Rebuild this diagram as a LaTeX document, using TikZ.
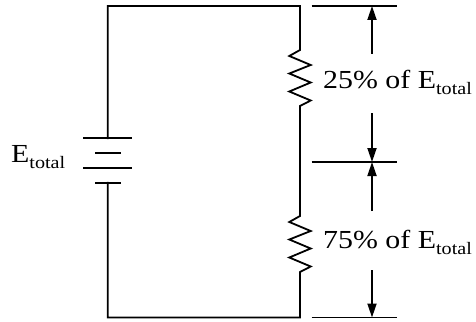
\documentclass[tikz,border=0pt]{standalone}
\usepackage{fontspec}
\setmainfont{Liberation Serif}
\newfontfamily\lblfont[FakeStretch=1.15]{Liberation Serif}
\usetikzlibrary{arrows.meta}
\newcommand{\Etot}{E\raisebox{-6pt}{\fontsize{17.5}{18}\selectfont total}}
\begin{document}
\begin{tikzpicture}[x=1pt,y=-1pt,
  wire/.style={line width=1.8pt,line join=miter,line cap=rect},
  plate/.style={line width=1.8pt},
  tick/.style={line width=1.8pt},
  dimarrow/.style={line width=1.8pt,-{Triangle[length=14pt,width=9pt]}},
  lbl/.style={anchor=base west,inner sep=0pt,font=\lblfont\fontsize{26}{28}\selectfont}]
\useasboundingbox (0,0) rectangle (476,321);
% coordinates
\coordinate (tl) at (107.7,6);
\coordinate (tr) at (300,6);
\coordinate (r1a) at (300,50);
\coordinate (r1b) at (300,106);
\coordinate (r2a) at (300,216);
\coordinate (r2b) at (300,272);
\coordinate (br) at (300,317.5);
\coordinate (bl) at (107.7,317.5);
\coordinate (bt) at (107.7,138.3);
\coordinate (bb) at (107.7,182.7);
% wires
\draw[wire] (bt) -- (tl) -- (tr) -- (r1a)
  -- ++(-10.7,6) -- ++(21.4,9) -- ++(-21.4,8.5) -- ++(21.4,9) -- ++(-21.4,9) -- ++(21.4,9) -- (r1b)
  -- (r2a)
  -- ++(-10.7,6) -- ++(21.4,9) -- ++(-21.4,8.5) -- ++(21.4,9) -- ++(-21.4,9) -- ++(21.4,9) -- (r2b)
  -- (br) -- (bl) -- (bb);
% battery
\draw[plate] (83.3,138.3) -- (132.3,138.3);
\draw[plate] (95,153.3) -- (120.7,153.3);
\draw[plate] (83.3,168.3) -- (132.3,168.3);
\draw[plate] (95,182.7) -- (120.7,182.7);
% ticks
\coordinate (t1a) at (311.7,6);  \coordinate (t1b) at (396.7,6);
\coordinate (t2a) at (311.7,162); \coordinate (t2b) at (396.7,162);
\coordinate (t3a) at (311.7,317.5); \coordinate (t3b) at (396.7,317.5);
\draw[tick] (t1a) -- (t1b);
\draw[tick] (t2a) -- (t2b);
\draw[tick] (t3a) -- (t3b);
% arrows
\coordinate (a1) at (372,54);  \coordinate (a1t) at (372,6);
\coordinate (a2) at (372,113); \coordinate (a2t) at (372,162);
\coordinate (a3) at (372,211); \coordinate (a3t) at (372,162);
\coordinate (a4) at (372,270); \coordinate (a4t) at (372,317.5);
\draw[dimarrow] (a1) -- (a1t);
\draw[dimarrow] (a2) -- (a2t);
\draw[dimarrow] (a3) -- (a3t);
\draw[dimarrow] (a4) -- (a4t);
% labels
\node[lbl] (l1) at (323,88.5) {25\% of \Etot};
\node[lbl] (l2) at (323,248.5) {75\% of \Etot};
\node[lbl] (l3) at (11,162.5) {\Etot};
\end{tikzpicture}
\end{document}
